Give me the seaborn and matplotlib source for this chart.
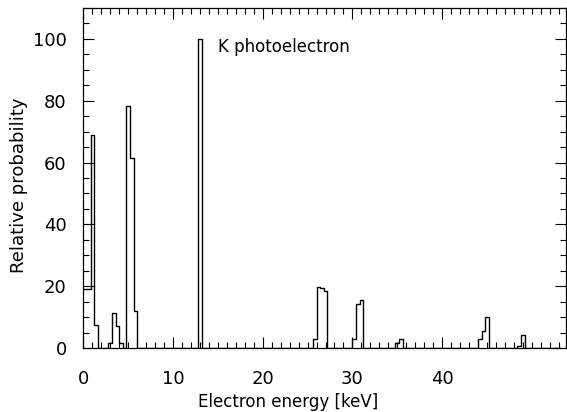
import numpy as np
import pandas as pd
import matplotlib
matplotlib.use("Agg")
import matplotlib.pyplot as plt
import seaborn as sns
from matplotlib.ticker import MultipleLocator

# Histogram bins (lower edge, keV) and relative probability
bin_lo = [0.0, 0.4, 0.8, 1.2,
          2.8, 3.2, 3.6, 4.0,
          4.8, 5.2, 5.6,
          13.0,
          25.6, 26.0, 26.4, 26.8,
          30.0, 30.4, 30.8,
          34.8, 35.2,
          44.0, 44.4, 44.8,
          48.4, 48.8]
prob = [19, 19, 69, 7.5,
        1.6, 11.3, 7.2, 1.6,
        78.3, 61.4, 11.9,
        100,
        3.0, 19.9, 19.4, 18.4,
        2.8, 14.3, 15.4,
        1.6, 3.0,
        3.0, 5.4, 10.0,
        0.8, 4.4]
bin_width = 0.4
x_ticks = [0, 10, 20, 30, 40]
y_ticks = [0, 20, 40, 60, 80, 100]

df = pd.DataFrame({"energy": np.array(bin_lo) + bin_width / 2, "prob": prob})

sns.set_style("ticks")
plt.rcParams['font.family'] = ['DejaVu Sans']
plt.rcParams['text.color'] = 'black'
plt.rcParams['axes.labelcolor'] = 'black'
plt.rcParams['xtick.color'] = 'black'
plt.rcParams['ytick.color'] = 'black'

fig = plt.figure(figsize=(5.67, 4.12), dpi=100)
ax = fig.add_axes([0.147, 0.155, 0.851, 0.826])

sns.histplot(data=df, x="energy", weights="prob", binwidth=bin_width,
             binrange=(0.0, 53.2), element="step", fill=False,
             color="black", linewidth=1.0, ax=ax)

ax.set_xlim(0, 53.8)
ax.set_ylim(0, 110)
ax.set_xticks(x_ticks)
ax.set_yticks(y_ticks)
ax.xaxis.set_minor_locator(MultipleLocator(1))
ax.yaxis.set_minor_locator(MultipleLocator(5))
ax.tick_params(which="both", direction="in", top=True, right=True,
               width=0.8, color="black")
ax.tick_params(axis="x", which="major", labelsize=13, pad=16)
ax.tick_params(axis="y", which="major", labelsize=13, pad=12)
ax.tick_params(which="major", length=8)
ax.tick_params(which="minor", length=4)
for s in ax.spines.values():
    s.set_visible(True)
    s.set_linewidth(0.9)
    s.set_color("black")

ax.set_xlabel("Electron energy [keV]", fontsize=12)
ax.set_ylabel("Relative probability", fontsize=13)
ax.xaxis.set_label_coords(0.424, -0.133)
ax.yaxis.set_label_coords(-0.115, 0.48)
ax.text(15.0, 97.3, "K photoelectron", fontsize=12, va="center", ha="left")

fig.savefig("out.png", dpi=100)
